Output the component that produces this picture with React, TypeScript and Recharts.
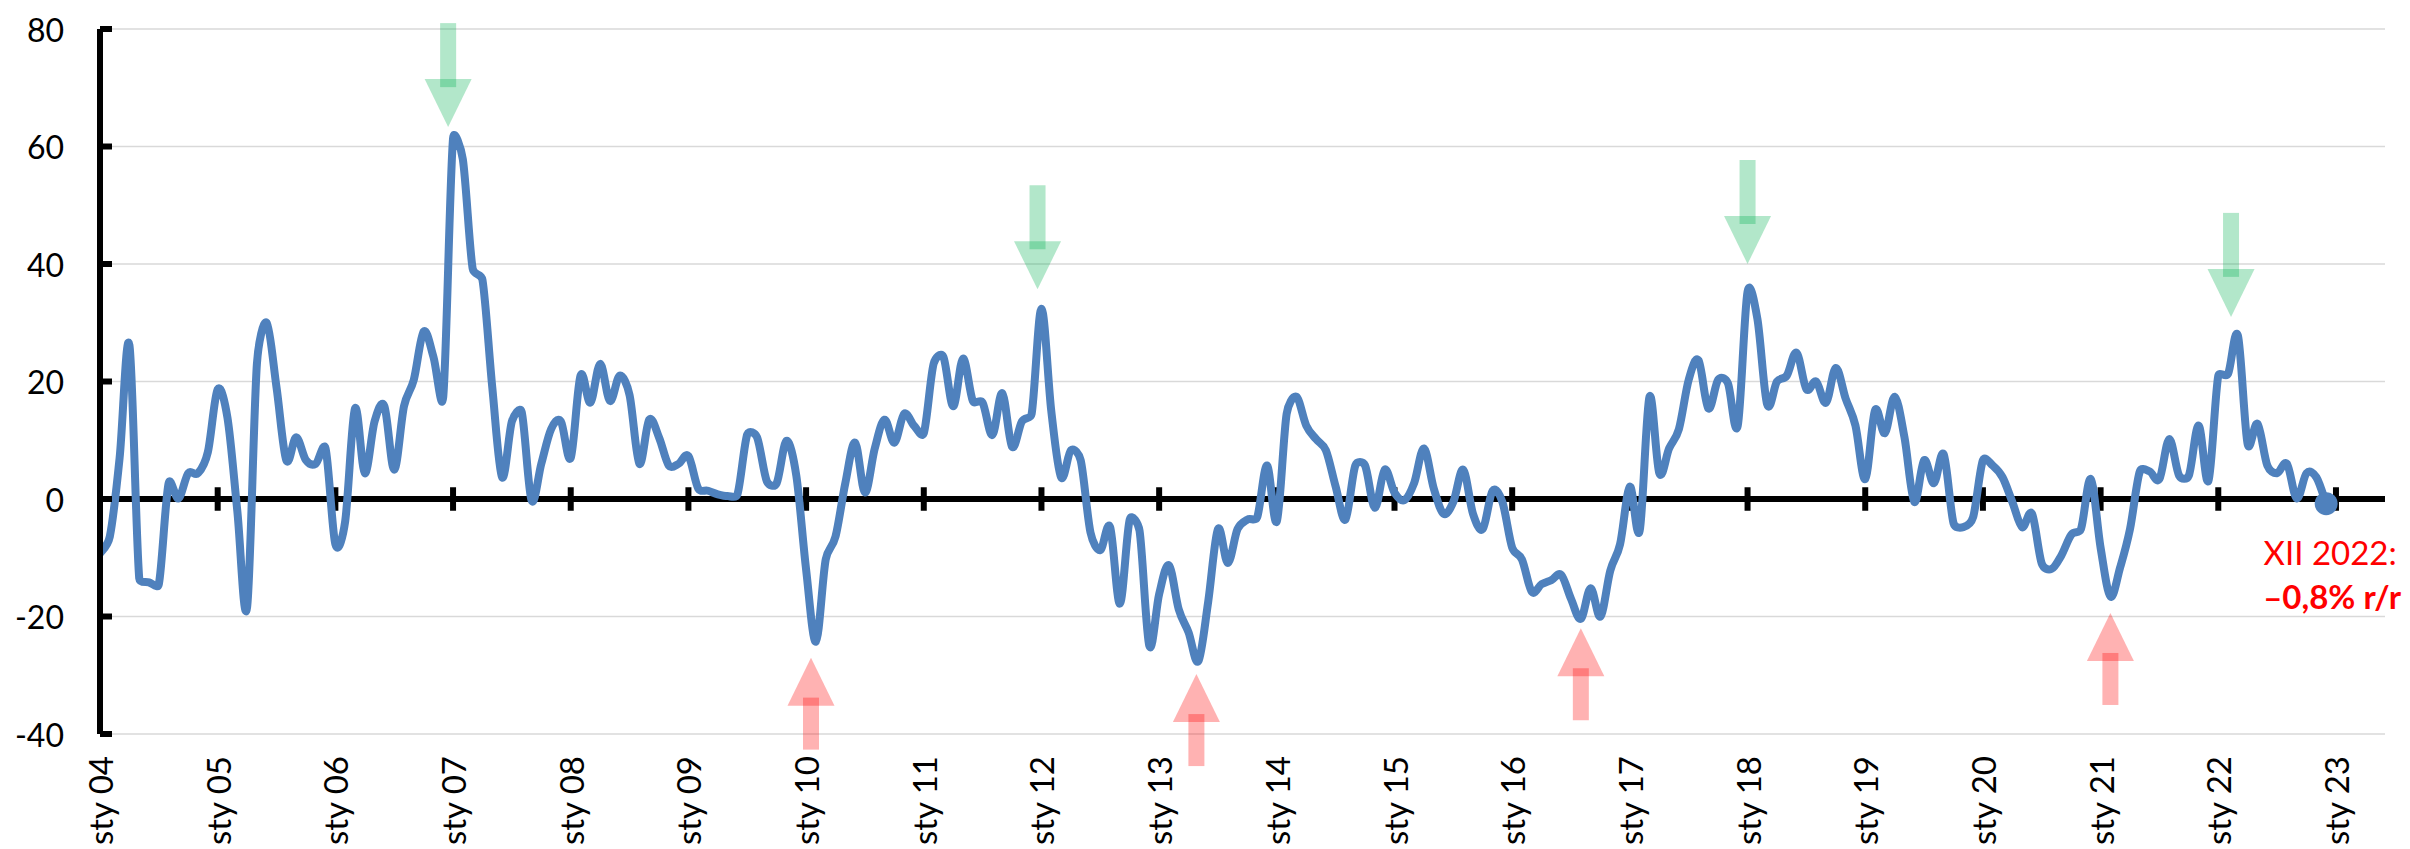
import {
  LineChart, Line, XAxis, YAxis, CartesianGrid, ReferenceLine, ReferenceDot,
} from "recharts";

// y/y change, monthly, Jan 2004 .. Dec 2022
const VALUES_2004 = [-9.3, -6.4, 7, 26.2, -13.5, -14.2, -14.5, 2.7, 0.1, 4.4, 4.4, 8];
const VALUES_2005 = [18.7, 13.8, -2, -18.4, 23, 30, 19, 6.6, 10.5, 6.6, 6, 8.6];
const VALUES_2006 = [-7.7, -3.8, 15.4, 4.4, 13.2, 15.8, 5, 15.8, 20.3, 28.5, 24.2, 17.4];
const VALUES_2007 = [61.4, 57.8, 39.2, 37.3, 19, 3.7, 13.2, 14.8, -0.2, 6, 11.9, 13.2];
const VALUES_2008 = [7, 21, 16.4, 23, 16.7, 21, 17.7, 6, 13.5, 10.5, 5.7, 6];
const VALUES_2009 = [7.3, 1.8, 1.4, 0.8, 0.5, 0.8, 11, 10.5, 3, 2.7, 9.9, 4];
const VALUES_2010 = [-12, -24.3, -10.3, -6.4, 2.7, 9.6, 1.1, 8.6, 13.5, 9.6, 14.5, 12.5];
const VALUES_2011 = [11.2, 23, 24.2, 15.8, 23.9, 16.7, 16.4, 10.9, 18, 8.9, 13.2, 14.5];
const VALUES_2012 = [32.4, 15, 3.7, 8.3, 6.6, -5.7, -8.7, -4.8, -17.8, -3.5, -5.4, -25];
const VALUES_2013 = [-16.2, -11.3, -18.8, -22.7, -27.6, -17.5, -5.1, -10.9, -5.1, -3.5, -3.1, 5.7];
const VALUES_2014 = [-3.8, 14.5, 17.4, 12.5, 10.2, 8.3, 2.1, -3.5, 5.7, 5.7, -1.5, 5];
const VALUES_2015 = [1.1, -0.2, 2.7, 8.6, 1.8, -2.5, -0.5, 5, -2.5, -5.1, 1.4, -0.5];
const VALUES_2016 = [-8.3, -10.3, -15.8, -14.5, -13.8, -12.9, -17, -20.4, -15.2, -20, -12.2, -7.7];
const VALUES_2017 = [2.1, -5.4, 17.4, 4.4, 8.6, 11.9, 20.3, 23.6, 15.4, 20.3, 19.7, 12.5];
const VALUES_2018 = [35.3, 30.7, 16.1, 20, 21, 24.9, 18.7, 20, 16.4, 22.3, 17.1, 12.5];
const VALUES_2019 = [3.4, 15.1, 11.2, 17.4, 10.5, -0.5, 6.6, 2.7, 7.6, -4.1, -4.8, -3.1];
const VALUES_2020 = [6.6, 5.7, 3.7, -0.5, -4.8, -2.5, -11, -11.9, -9.6, -6.1, -5.1, 3.4];
const VALUES_2021 = [-8.3, -16.6, -11.6, -5.1, 4.7, 4.7, 3.4, 10.2, 4, 4, 12.5, 3.1];
const VALUES_2022 = [21, 21.3, 27.8, 9.3, 12.8, 5.7, 4.4, 6, 0.1, 4.4, 3.7, -0.8];

const VALUES = [
  ...VALUES_2004, ...VALUES_2005, ...VALUES_2006, ...VALUES_2007, ...VALUES_2008,
  ...VALUES_2009, ...VALUES_2010, ...VALUES_2011, ...VALUES_2012, ...VALUES_2013,
  ...VALUES_2014, ...VALUES_2015, ...VALUES_2016, ...VALUES_2017, ...VALUES_2018,
  ...VALUES_2019, ...VALUES_2020, ...VALUES_2021, ...VALUES_2022,
];

const YEAR_LABELS = [
  "sty 04", "sty 05", "sty 06", "sty 07", "sty 08", "sty 09", "sty 10",
  "sty 11", "sty 12", "sty 13", "sty 14", "sty 15", "sty 16", "sty 17",
  "sty 18", "sty 19", "sty 20", "sty 21", "sty 22", "sty 23",
];
const Y_TICKS = [-40, -20, 0, 20, 40, 60, 80];

// turning points marked with arrows (month index, value at arrow tip)
const PEAK_MONTHS = [35.5, 95.6, 168, 217.3];
const PEAK_TIPS = [63.3, 35.7, 40, 31];
const TROUGH_MONTHS = [72.5, 111.8, 151, 205];
const TROUGH_TIPS = [-27, -29.8, -22, -19.4];

const LAST_LABEL = "XII 2022:";
const LAST_VALUE_LABEL = "\u20130,8% r/r";

const data = VALUES.map((v, i) => ({ m: i, v }));
const xTicks = YEAR_LABELS.map((_, i) => i * 12);

const FONT = "Lato, 'Open Sans', sans-serif";
const BLUE = "#4F81BD";

// Excel-like smoothed line: Catmull-Rom, control arms capped by segment length
function excelSmooth(context: any) {
  let pts: number[][] = [];
  const cap = (dx: number, dy: number, max: number) => {
    const len = Math.hypot(dx, dy);
    if (len <= max || len === 0) return [dx, dy];
    return [(dx * max) / len, (dy * max) / len];
  };
  return {
    areaStart() {},
    areaEnd() {},
    lineStart() { pts = []; },
    lineEnd() {
      const n = pts.length;
      if (!n) return;
      context.moveTo(pts[0][0], pts[0][1]);
      for (let i = 0; i < n - 1; i++) {
        const p0 = pts[i > 0 ? i - 1 : 0];
        const p1 = pts[i];
        const p2 = pts[i + 1];
        const p3 = pts[i + 2 < n ? i + 2 : n - 1];
        const seg = Math.hypot(p2[0] - p1[0], p2[1] - p1[1]) * 0.5;
        const a = cap((p2[0] - p0[0]) / 6, (p2[1] - p0[1]) / 6, seg);
        const b = cap((p3[0] - p1[0]) / 6, (p3[1] - p1[1]) / 6, seg);
        context.bezierCurveTo(
          p1[0] + a[0], p1[1] + a[1],
          p2[0] - b[0], p2[1] - b[1],
          p2[0], p2[1],
        );
      }
    },
    point(x: number, y: number) { pts.push([+x, +y]); },
  };
}

function Arrow({ cx, cy, up, color, shaft }: { cx?: number; cy?: number; up: boolean; color: string; shaft: number }) {
  if (cx == null || cy == null) return null;
  const s = up ? 1 : -1; // up arrow: body below the tip
  const headH = 48;
  const headW = 47;
  const shaftW = 16;
  const headBase = cy + s * headH;
  const shaftStart = headBase - s * 8;
  const shaftEnd = shaftStart + s * shaft;
  return (
    <g>
      <polygon
        points={`${cx},${cy} ${cx - headW / 2},${headBase} ${cx + headW / 2},${headBase}`}
        fill={color} fillOpacity={0.3}
      />
      <rect
        x={cx - shaftW / 2}
        y={Math.min(shaftStart, shaftEnd)}
        width={shaftW}
        height={Math.abs(shaftEnd - shaftStart)}
        fill={color} fillOpacity={0.3}
      />
    </g>
  );
}

function XTick({ x, y, payload }: any) {
  const label = YEAR_LABELS[Math.round(payload.value / 12)];
  return (
    <text
      x={x} y={y}
      transform={`rotate(-90, ${x}, ${y})`}
      textAnchor="end"
      dominantBaseline="central"
      fontFamily={FONT}
      fontSize={33}
      fill="#000"
    >
      {label}
    </text>
  );
}

function YTick({ x, y, payload }: any) {
  return (
    <g>
      <line x1={x + 36} x2={x + 48} y1={y} y2={y} stroke="#000" strokeWidth={6} />
      <text
        x={x} y={y}
        textAnchor="end"
        dominantBaseline="central"
        fontFamily={FONT}
        fontSize={32}
        fill="#000"
      >
        {payload.value}
      </text>
    </g>
  );
}

function LastPoint({ cx, cy }: any) {
  if (cx == null || cy == null) return null;
  return (
    <g>
      <circle cx={cx} cy={cy} r={11.5} fill={BLUE} />
      <text x={cx + 4} y={cy + 61} textAnchor="middle" fontFamily={FONT} fontSize={33} fill="#FF0000">
        {LAST_LABEL}
      </text>
      <text x={cx + 6} y={cy + 105} textAnchor="middle" fontFamily={FONT} fontSize={33} fontWeight={700} fill="#FF0000">
        {LAST_VALUE_LABEL}
      </text>
    </g>
  );
}

export default function App() {
  const last = data[data.length - 1];
  return (
    <div style={{ position: "absolute", left: 0, top: 0, width: 2410, height: 849, background: "#fff", overflow: "hidden" }}>
      <LineChart
        width={2410}
        height={849}
        data={data}
        margin={{ top: 29, right: 25, bottom: 15, left: 40 }}
      >
        <CartesianGrid vertical={false} stroke="#d9d9d9" strokeWidth={1.5} />
        <XAxis
          dataKey="m"
          type="number"
          domain={[0, 233]}
          ticks={xTicks}
          allowDataOverflow
          height={100}
          axisLine={false}
          tickLine={false}
          tickSize={8}
          tickMargin={14}
          tick={<XTick />}
          interval={0}
        />
        <YAxis
          type="number"
          domain={[-40, 80]}
          ticks={Y_TICKS}
          width={60}
          axisLine={{ stroke: "#000", strokeWidth: 6 }}
          tickLine={false}
          tickSize={8}
          tickMargin={28}
          tick={<YTick />}
          interval={0}
        />
        <ReferenceLine y={0} stroke="#000" strokeWidth={6} />
        {xTicks.map((t) => (
          <ReferenceLine
            key={`zt-${t}`}
            segment={[{ x: t, y: -2 }, { x: t, y: 2 }]}
            stroke="#000"
            strokeWidth={6}
          />
        ))}
        <Line
          dataKey="v"
          type={excelSmooth as any}
          stroke={BLUE}
          strokeWidth={8}
          strokeLinejoin="round"
          dot={false}
          activeDot={false}
          isAnimationActive={false}
        />
        {PEAK_MONTHS.map((m, i) => (
          <ReferenceDot
            key={`pk-${i}`}
            x={m}
            y={PEAK_TIPS[i]}
            r={0}
            ifOverflow="visible"
            shape={(p: any) => <Arrow cx={p.cx} cy={p.cy} up={false} color="#00B050" shaft={64} />}
          />
        ))}
        {TROUGH_MONTHS.map((m, i) => (
          <ReferenceDot
            key={`tr-${i}`}
            x={m}
            y={TROUGH_TIPS[i]}
            r={0}
            ifOverflow="visible"
            shape={(p: any) => <Arrow cx={p.cx} cy={p.cy} up={true} color="#FF0000" shaft={52} />}
          />
        ))}
        <ReferenceDot
          x={last.m}
          y={last.v}
          r={11.5}
          ifOverflow="visible"
          shape={(p: any) => <LastPoint cx={p.cx} cy={p.cy} />}
        />
      </LineChart>
    </div>
  );
}
